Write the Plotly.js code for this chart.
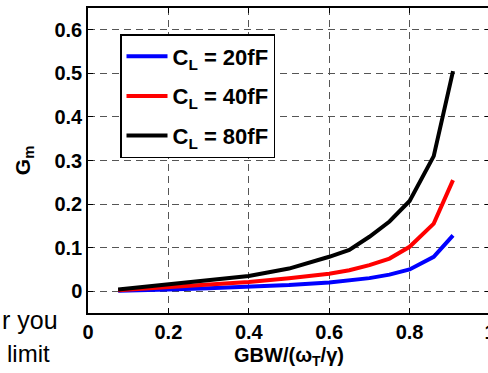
<!DOCTYPE html>
<html>
<head>
<meta charset="utf-8">
<script src="https://cdn.plot.ly/plotly-3.0.1.min.js"></script>
<style>
html, body { margin: 0; padding: 0; width: 488px; height: 373px; overflow: hidden; background: #fff; }
#chart { width: 500px; height: 373px; }
</style>
</head>
<body>
<div id="chart"></div>
<script>
// Data
const gbwRatio = [0.075, 0.15, 0.2, 0.3, 0.4, 0.5, 0.6, 0.65, 0.7, 0.75, 0.8, 0.86, 0.908];
const gm20fF = [0.001, 0.002, 0.004, 0.007, 0.010, 0.014, 0.020, 0.024, 0.030, 0.038, 0.050, 0.079, 0.128];
const gm40fF = [0.002, 0.006, 0.010, 0.015, 0.021, 0.030, 0.040, 0.048, 0.060, 0.075, 0.102, 0.155, 0.255];
const gm80fF = [0.004, 0.011, 0.016, 0.025, 0.035, 0.052, 0.079, 0.095, 0.125, 0.160, 0.207, 0.310, 0.505];
const seriesNames = ['C<sub>L</sub> = 20fF', 'C<sub>L</sub> = 40fF', 'C<sub>L</sub> = 80fF'];
const seriesColors = ['#0000ff', '#ff0000', '#000000'];
const xTicks = [0, 0.2, 0.4, 0.6, 0.8, 1];
const xTickText = ['0', '0.2', '0.4', '0.6', '0.8', '1'];
const yTicks = [0, 0.1, 0.2, 0.3, 0.4, 0.5, 0.6];
const yTickText = ['0', '0.1', '0.2', '0.3', '0.4', '0.5', '0.6'];

const FONT = 'Liberation Sans, Arial, sans-serif';
const allY = [gm20fF, gm40fF, gm80fF];
const traces = allY.map((ys, i) => ({
  x: gbwRatio, y: ys, type: 'scatter', mode: 'lines',
  name: seriesNames[i], legendgroup: 'g' + i,
  line: { color: seriesColors[i], width: 4 }
}));

const axisCommon = {
  showline: true, linecolor: '#000', linewidth: 1.5, mirror: 'ticks',
  ticks: 'inside', ticklen: 5, tickcolor: '#000', tickwidth: 1,
  showgrid: true, gridcolor: '#555555', gridwidth: 1.3, griddash: '7px,5px',
  zeroline: false,
  tickfont: { family: FONT, size: 20, color: '#000', weight: 'bold' }
};

const layout = {
  width: 500, height: 373,
  margin: { l: 88, r: 10, t: 8, b: 60 },
  paper_bgcolor: '#fff', plot_bgcolor: '#fff',
  showlegend: true,
  font: { family: FONT, size: 20, color: '#000', weight: 'bold' },
  xaxis: Object.assign({}, axisCommon, {
    range: [0, 1], tickvals: xTicks, ticktext: xTickText,
    title: { text: 'GBW/(ω<sub>T</sub>/γ)', standoff: 6, font: { family: FONT, size: 20, weight: 'bold', color: '#000' } }
  }),
  yaxis: Object.assign({}, axisCommon, {
    range: [-0.05, 0.65], tickvals: yTicks, ticktext: yTickText,
    title: { text: 'G<sub>m</sub>', standoff: 18, font: { family: FONT, size: 21, weight: 'bold', color: '#000' } }
  }),
  legend: {
    x: (120 - 88) / 402, y: (313 - 34) / 305, xanchor: 'left', yanchor: 'top',
    bgcolor: '#fff', bordercolor: '#000', borderwidth: 1.5,
    font: { family: FONT, size: 22, color: '#000', weight: 'bold' },
    itemwidth: 41, tracegroupgap: 8
  },
  annotations: [
    { xref: 'paper', yref: 'paper', x: -88 / 402, y: (313 - 336) / 305, xanchor: 'left', yanchor: 'bottom',
      text: 'r you', showarrow: false, font: { family: FONT, size: 25, color: '#000', weight: 'normal' } },
    { xref: 'paper', yref: 'paper', x: -83 / 402, y: (313 - 369) / 305, xanchor: 'left', yanchor: 'bottom',
      text: 'limit', showarrow: false, font: { family: FONT, size: 24, color: '#000', weight: 'normal' } }
  ]
};

Plotly.newPlot('chart', traces, layout, { displayModeBar: false, responsive: false });
</script>
</body>
</html>
